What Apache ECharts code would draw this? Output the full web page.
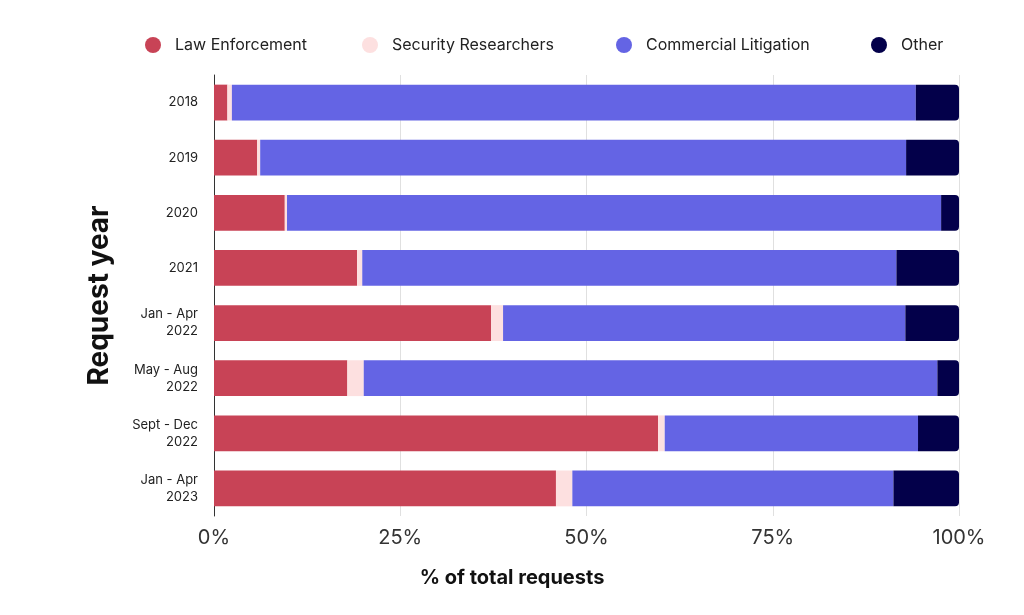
<!DOCTYPE html>
<html>
<head>
<meta charset="utf-8">
<script src="https://cdn.jsdelivr.net/npm/echarts@6/dist/echarts.min.js"></script>
<style>
  html, body { margin: 0; padding: 0; background: #fff; }
</style>
</head>
<body>
<div id="main" style="width: 1024px;height:615px;"></div>

<script type="text/javascript">
// categories, top to bottom
var periods = ['2018', '2019', '2020', '2021', 'Jan - Apr\n2022', 'May - Aug\n2022', 'Sept - Dec\n2022', 'Jan - Apr\n2023'];
var xTicks = [0, 25, 50, 75, 100];
var seriesNames = ['Law Enforcement', 'Security Researchers', 'Commercial Litigation', 'Other'];

// share of requests, %
var lawEnforcement      = [1.8, 5.8, 9.5, 19.2, 37.2, 17.9, 59.6, 45.9];
var securityResearchers = [0.6, 0.4, 0.3, 0.7, 1.6, 2.2, 0.9, 2.2];
var commercialLitigation = [91.8, 86.7, 87.8, 71.7, 54.0, 77.0, 34.0, 43.1];
var other               = [5.8, 7.1, 2.4, 8.4, 7.2, 2.9, 5.5, 8.8];

var font = 'Inter, "Noto Sans", sans-serif';
var myChart = echarts.init(document.getElementById('main'));

function bar(name, data, color, radius) {
	return {
		name: name,
		type: 'bar',
		stack: 'total',
		data: data,
		barWidth: '65%',
		itemStyle: { color: color, borderRadius: radius || 0 },
		emphasis: { disabled: true }
	};
}

// one legend per item so the spacing follows the original
var legendLeft = [140, 357, 611, 866];
var legends = seriesNames.map(function (n, i) {
	return {
		top: 32,
		left: legendLeft[i],
		itemWidth: 16,
		itemHeight: 16,
		icon: 'circle',
		textStyle: { fontSize: 16, color: '#222', fontFamily: font, padding: [0, 0, 0, 9] },
		data: [n]
	};
});

option = {
	animation: false,
	textStyle: { fontFamily: font },
	legend: legends,
	title: {
		text: '% of total requests',
		left: 'center',
		top: 563,
		textStyle: { fontSize: 20, fontWeight: 'bold', color: '#111', fontFamily: font }
	},
	grid: { left: 214, right: 65, top: 75, bottom: 99 },
	xAxis: {
		type: 'value',
		min: 0,
		max: 100,
		interval: 25,
		axisLine: { show: false },
		axisTick: { show: false },
		splitLine: { lineStyle: { color: '#e0e0e0', width: 1 } },
		axisLabel: {
			margin: 12,
			fontSize: 20,
			color: '#333',
			fontFamily: font,
			formatter: function (v) { return xTicks.indexOf(v) >= 0 ? v + '%' : ''; }
		}
	},
	yAxis: {
		type: 'category',
		inverse: true,
		data: periods,
		name: 'Request year',
		nameLocation: 'middle',
		nameGap: 100,
		nameTextStyle: { fontSize: 28, fontWeight: 'bold', color: '#111', fontFamily: font },
		axisLine: { lineStyle: { color: '#333', width: 1 } },
		axisTick: { show: false },
		axisLabel: { margin: 16, fontSize: 13, lineHeight: 17, color: '#222', fontFamily: font }
	},
	series: [
		bar(seriesNames[0], lawEnforcement, '#c84356'),
		bar(seriesNames[1], securityResearchers, '#fde0e0'),
		bar(seriesNames[2], commercialLitigation, '#6464e4'),
		bar(seriesNames[3], other, '#03004a', [0, 4, 4, 0])
	]
};

myChart.setOption(option);
</script>
</body>
</html>
